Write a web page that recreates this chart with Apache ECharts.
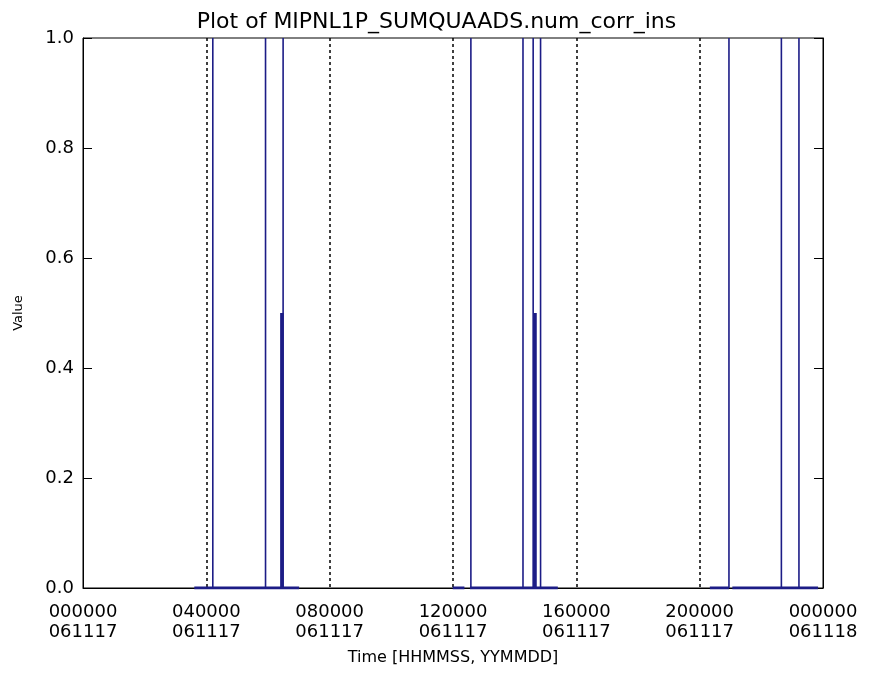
<!DOCTYPE html>
<html>
<head>
<meta charset="utf-8">
<title>Plot of MIPNL1P_SUMQUAADS.num_corr_ins</title>
<script src="https://cdn.jsdelivr.net/npm/echarts@6/dist/echarts.min.js"></script>
<style>
  html, body { margin: 0; padding: 0; background: #fff; }
  #chart { width: 873px; height: 675px; }
</style>
</head>
<body>
<div id="chart"></div>
<script>
// time in hours since 000000 061117
var xTickLabels = ['000000\n061117', '040000\n061117', '080000\n061117', '120000\n061117',
                   '160000\n061117', '200000\n061117', '000000\n061118'];
var yTickLabels = ['0.0', '0.2', '0.4', '0.6', '0.8', '1.0'];

// stretches where data exists (value 0)
var segStart = [3.61, 11.99, 12.55, 20.33, 21.06];
var segEnd   = [7.01, 12.37, 15.40, 20.95, 23.84];
// samples with value 1
var spikeHours = [4.21, 5.92, 6.49, 12.58, 14.27, 14.60, 14.84, 20.95, 22.65, 23.22];
// samples with value 0.5
var halfHours = [6.45, 14.66];
var halfValue = 0.5;

var navy = '#1c1c86';
var series = [];

segStart.forEach(function (s, i) {
    series.push({
        type: 'line', symbol: 'none', silent: true, z: 3,
        lineStyle: { color: navy, width: 3 },
        data: [[s, 0], [segEnd[i], 0]]
    });
});
spikeHours.forEach(function (h) {
    series.push({
        type: 'line', symbol: 'none', silent: true,
        lineStyle: { color: navy, width: 1.6 },
        data: [[h, 0], [h, 1]]
    });
});
halfHours.forEach(function (h) {
    series.push({
        type: 'line', symbol: 'none', silent: true,
        lineStyle: { color: navy, width: 3.5 },
        data: [[h, 0], [h, halfValue]]
    });
});

var chart = echarts.init(document.getElementById('chart'));
var font = 'DejaVu Sans';
chart.setOption({
    animation: false,
    backgroundColor: '#fff',
    title: {
        text: 'Plot of MIPNL1P_SUMQUAADS.num_corr_ins',
        left: 'center',
        top: 6,
        textStyle: { fontFamily: font, fontSize: 22, fontWeight: 'normal', color: '#000' }
    },
    grid: {
        left: 83, right: 50, top: 38, bottom: 87,
        show: true, borderColor: '#000', borderWidth: 1
    },
    xAxis: {
        type: 'value', min: 0, max: 24, interval: 4,
        name: 'Time [HHMMSS, YYMMDD]',
        nameLocation: 'middle', nameGap: 62,
        nameTextStyle: { fontFamily: font, fontSize: 16, color: '#000' },
        axisLine: { lineStyle: { color: '#000', width: 1 } },
        axisTick: { show: false },
        axisLabel: {
            margin: 14, lineHeight: 20,
            fontFamily: font, fontSize: 18, color: '#000',
            formatter: function (v) { return xTickLabels[Math.round(v / 4)]; }
        },
        splitLine: {
            show: true, showMinLine: false, showMaxLine: false,
            lineStyle: { color: '#000', width: 1.5, type: [3, 3] }
        }
    },
    yAxis: [{
        type: 'value', min: 0, max: 1, interval: 0.2,
        name: 'Value',
        nameLocation: 'middle', nameGap: 58,
        nameTextStyle: { fontFamily: font, fontSize: 13, color: '#000' },
        axisLine: { show: true, lineStyle: { color: '#000' } },
        axisTick: { show: true, inside: true, length: 9, lineStyle: { color: '#000' } },
        axisLabel: {
            margin: 9, fontFamily: font, fontSize: 18, color: '#000',
            formatter: function (v) { return yTickLabels[Math.round(v * 5)]; }
        },
        splitLine: { show: false }
    }, {
        type: 'value', min: 0, max: 1, interval: 0.2, position: 'right',
        axisLine: { show: true, lineStyle: { color: '#000' } },
        axisTick: { show: true, inside: true, length: 9, lineStyle: { color: '#000' } },
        axisLabel: { show: false },
        splitLine: { show: false }
    }],
    series: series
});
</script>
</body>
</html>
